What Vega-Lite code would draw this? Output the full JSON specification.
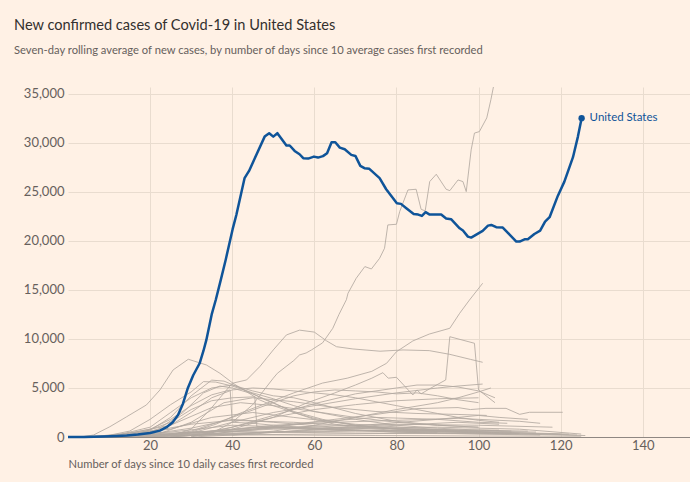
{
  "$schema": "https://vega.github.io/schema/vega-lite/v6.json",
  "width": 622,
  "height": 350,
  "autosize": {"type": "none"},
  "padding": {"left": 68, "top": 87, "right": 0, "bottom": 45},
  "background": "#fff1e5",
  "config": {"view": {"stroke": null}, "font": "Lato"},
  "title": {
    "text": "New confirmed cases of Covid-19 in United States",
    "subtitle": "Seven-day rolling average of new cases, by number of days since 10 average cases first recorded",
    "anchor": "start",
    "frame": "group",
    "dx": -54,
    "offset": 31,
    "fontSize": 14.6,
    "fontWeight": "normal",
    "color": "#33302e",
    "subtitleFontSize": 11.2,
    "subtitleColor": "#66605c",
    "subtitlePadding": 12
  },
  "datasets": {
    "grey": [
      {"c":"S1","d":10,"v":0},{"c":"S1","d":20,"v":50},{"c":"S1","d":30,"v":150},{"c":"S1","d":35,"v":400},{"c":"S1","d":40,"v":1500},{"c":"S1","d":45,"v":3300},{"c":"S1","d":50,"v":6000},{"c":"S1","d":51,"v":6500},{"c":"S1","d":55,"v":7800},{"c":"S1","d":56.4,"v":8370},{"c":"S1","d":58,"v":8570},{"c":"S1","d":59.3,"v":8880},{"c":"S1","d":62,"v":9600},{"c":"S1","d":64.5,"v":11090},{"c":"S1","d":66,"v":12500},{"c":"S1","d":67.8,"v":14000},{"c":"S1","d":68.2,"v":14660},{"c":"S1","d":70.2,"v":16190},{"c":"S1","d":72.3,"v":17380},{"c":"S1","d":73.9,"v":17140},{"c":"S1","d":75.9,"v":18230},{"c":"S1","d":77.1,"v":19250},{"c":"S1","d":77.9,"v":21630},{"c":"S1","d":80,"v":21700},{"c":"S1","d":80.8,"v":23000},{"c":"S1","d":82.8,"v":25200},{"c":"S1","d":84.8,"v":25270},{"c":"S1","d":86,"v":23230},{"c":"S1","d":87,"v":23060},{"c":"S1","d":88.1,"v":26050},{"c":"S1","d":89.7,"v":26800},{"c":"S1","d":92.1,"v":25270},{"c":"S1","d":93,"v":25130},{"c":"S1","d":95,"v":26220},{"c":"S1","d":96.2,"v":26050},{"c":"S1","d":97,"v":25030},{"c":"S1","d":98.2,"v":29290},{"c":"S1","d":99,"v":31000},{"c":"S1","d":100.2,"v":31150},{"c":"S1","d":102,"v":32550},{"c":"S1","d":103,"v":34400},{"c":"S1","d":104,"v":36500},
      {"c":"S2","d":20,"v":100},{"c":"S2","d":30,"v":500},{"c":"S2","d":36,"v":1300},{"c":"S2","d":42,"v":2440},{"c":"S2","d":50,"v":3700},{"c":"S2","d":55,"v":4500},{"c":"S2","d":62,"v":5500},{"c":"S2","d":68,"v":6000},{"c":"S2","d":74,"v":6700},{"c":"S2","d":77.6,"v":7520},{"c":"S2","d":80,"v":8700},{"c":"S2","d":84,"v":9800},{"c":"S2","d":88,"v":10500},{"c":"S2","d":93,"v":11090},{"c":"S2","d":95.4,"v":12620},{"c":"S2","d":97.8,"v":13980},{"c":"S2","d":101,"v":15680},
      {"c":"S3","d":25,"v":100},{"c":"S3","d":30,"v":800},{"c":"S3","d":34.5,"v":2750},{"c":"S3","d":40,"v":5480},{"c":"S3","d":43.5,"v":5820},{"c":"S3","d":46.7,"v":7170},{"c":"S3","d":50,"v":8880},{"c":"S3","d":53.2,"v":10410},{"c":"S3","d":56.4,"v":10900},{"c":"S3","d":60,"v":10700},{"c":"S3","d":63,"v":9800},{"c":"S3","d":65.4,"v":9210},{"c":"S3","d":69.4,"v":8980},{"c":"S3","d":76,"v":8750},{"c":"S3","d":81.6,"v":8880},{"c":"S3","d":88,"v":8810},{"c":"S3","d":93,"v":8430},{"c":"S3","d":98,"v":7920},{"c":"S3","d":101,"v":7620},
      {"c":"S4","d":3,"v":0},{"c":"S4","d":6.2,"v":200},{"c":"S4","d":10.2,"v":1050},{"c":"S4","d":14.3,"v":2070},{"c":"S4","d":19.1,"v":3270},{"c":"S4","d":22.4,"v":4800},{"c":"S4","d":25.6,"v":6840},{"c":"S4","d":29.3,"v":7930},{"c":"S4","d":33.7,"v":7350},{"c":"S4","d":37,"v":6500},{"c":"S4","d":40.2,"v":5480},{"c":"S4","d":46.7,"v":3780},{"c":"S4","d":50,"v":3200},{"c":"S4","d":55,"v":2500},{"c":"S4","d":60,"v":1900},{"c":"S4","d":65,"v":1500},{"c":"S4","d":70,"v":1200},{"c":"S4","d":80,"v":800},{"c":"S4","d":90,"v":600},{"c":"S4","d":100,"v":500},{"c":"S4","d":105,"v":450},
      {"c":"S5","d":8,"v":0},{"c":"S5","d":15,"v":600},{"c":"S5","d":20,"v":1800},{"c":"S5","d":25,"v":3300},{"c":"S5","d":30,"v":4600},{"c":"S5","d":33,"v":5650},{"c":"S5","d":36,"v":5600},{"c":"S5","d":40,"v":5200},{"c":"S5","d":45,"v":4500},{"c":"S5","d":50,"v":3900},{"c":"S5","d":55,"v":3200},{"c":"S5","d":60,"v":2600},{"c":"S5","d":70,"v":1800},{"c":"S5","d":80,"v":1200},{"c":"S5","d":90,"v":900},{"c":"S5","d":100,"v":700},{"c":"S5","d":108,"v":600},
      {"c":"S6","d":10,"v":0},{"c":"S6","d":20,"v":1000},{"c":"S6","d":25,"v":2500},{"c":"S6","d":30,"v":4000},{"c":"S6","d":35,"v":5000},{"c":"S6","d":40,"v":5300},{"c":"S6","d":45,"v":4700},{"c":"S6","d":50,"v":4200},{"c":"S6","d":55,"v":4000},{"c":"S6","d":60,"v":3500},{"c":"S6","d":70,"v":2400},{"c":"S6","d":80,"v":1600},{"c":"S6","d":90,"v":1200},{"c":"S6","d":100,"v":1000},
      {"c":"S7","d":10,"v":0},{"c":"S7","d":20,"v":800},{"c":"S7","d":25,"v":1800},{"c":"S7","d":30,"v":3200},{"c":"S7","d":35,"v":4300},{"c":"S7","d":39.5,"v":4800},{"c":"S7","d":40,"v":1500},{"c":"S7","d":45,"v":1400},{"c":"S7","d":50,"v":1200},{"c":"S7","d":60,"v":900},{"c":"S7","d":70,"v":700},{"c":"S7","d":80,"v":500},{"c":"S7","d":90,"v":400},
      {"c":"S8","d":15,"v":0},{"c":"S8","d":25,"v":1500},{"c":"S8","d":30,"v":2800},{"c":"S8","d":35,"v":3700},{"c":"S8","d":40,"v":4000},{"c":"S8","d":45.5,"v":4100},{"c":"S8","d":46,"v":1050},{"c":"S8","d":50,"v":1000},{"c":"S8","d":60,"v":800},{"c":"S8","d":70,"v":700},{"c":"S8","d":80,"v":600},{"c":"S8","d":90,"v":500},
      {"c":"S9","d":10,"v":0},{"c":"S9","d":20,"v":500},{"c":"S9","d":25,"v":1200},{"c":"S9","d":30,"v":2500},{"c":"S9","d":35,"v":4000},{"c":"S9","d":40,"v":4800},{"c":"S9","d":45,"v":5000},{"c":"S9","d":50,"v":4900},{"c":"S9","d":55,"v":4700},{"c":"S9","d":60,"v":4500},{"c":"S9","d":65,"v":4300},{"c":"S9","d":70,"v":4000},{"c":"S9","d":75,"v":3600},{"c":"S9","d":80,"v":3200},{"c":"S9","d":85,"v":2800},{"c":"S9","d":90,"v":2400},{"c":"S9","d":95,"v":2000},{"c":"S9","d":100,"v":1700},{"c":"S9","d":105,"v":1500},
      {"c":"S10","d":30,"v":100},{"c":"S10","d":40,"v":800},{"c":"S10","d":50,"v":2000},{"c":"S10","d":58,"v":3450},{"c":"S10","d":65,"v":4500},{"c":"S10","d":70,"v":5300},{"c":"S10","d":74,"v":6000},{"c":"S10","d":76.7,"v":6560},{"c":"S10","d":78,"v":6000},{"c":"S10","d":80,"v":6090},{"c":"S10","d":84,"v":4290},{"c":"S10","d":85,"v":4800},{"c":"S10","d":86,"v":4400},{"c":"S10","d":88,"v":4900},{"c":"S10","d":92,"v":5820},{"c":"S10","d":93,"v":10230},{"c":"S10","d":99,"v":9560},{"c":"S10","d":100,"v":4800},{"c":"S10","d":104,"v":3500},
      {"c":"S11","d":20,"v":0},{"c":"S11","d":30,"v":400},{"c":"S11","d":40,"v":1500},{"c":"S11","d":50,"v":2500},{"c":"S11","d":60,"v":3200},{"c":"S11","d":70,"v":3900},{"c":"S11","d":80,"v":4500},{"c":"S11","d":90,"v":5000},{"c":"S11","d":95,"v":5200},{"c":"S11","d":101,"v":5400},
      {"c":"S12","d":25,"v":0},{"c":"S12","d":35,"v":300},{"c":"S12","d":45,"v":800},{"c":"S12","d":55,"v":1300},{"c":"S12","d":65,"v":1800},{"c":"S12","d":75,"v":2300},{"c":"S12","d":85,"v":2900},{"c":"S12","d":95,"v":3000},{"c":"S12","d":98,"v":2800},{"c":"S12","d":101.8,"v":2920},{"c":"S12","d":106.7,"v":2920},{"c":"S12","d":110,"v":2310},{"c":"S12","d":112.4,"v":2520},{"c":"S12","d":120.5,"v":2520},
      {"c":"S13","d":30,"v":200},{"c":"S13","d":40,"v":1000},{"c":"S13","d":50,"v":2200},{"c":"S13","d":60,"v":3400},{"c":"S13","d":70,"v":4400},{"c":"S13","d":80,"v":5000},{"c":"S13","d":85,"v":5300},{"c":"S13","d":90,"v":5300},{"c":"S13","d":95,"v":5100},{"c":"S13","d":100,"v":4700},{"c":"S13","d":104,"v":4000},
      {"c":"S14","d":20,"v":0},{"c":"S14","d":30,"v":600},{"c":"S14","d":40,"v":2000},{"c":"S14","d":50,"v":3500},{"c":"S14","d":55,"v":4200},{"c":"S14","d":60,"v":4600},{"c":"S14","d":65,"v":4800},{"c":"S14","d":70,"v":4700},{"c":"S14","d":75,"v":4600},{"c":"S14","d":80,"v":4400},{"c":"S14","d":85,"v":4500},{"c":"S14","d":90,"v":4200},{"c":"S14","d":95,"v":3800},{"c":"S14","d":100,"v":3500},
      {"c":"S15","d":12,"v":0},{"c":"S15","d":20,"v":700},{"c":"S15","d":25,"v":2000},{"c":"S15","d":30,"v":4200},{"c":"S15","d":35,"v":5800},{"c":"S15","d":38,"v":5700},{"c":"S15","d":42,"v":5000},{"c":"S15","d":48,"v":3800},{"c":"S15","d":55,"v":2600},{"c":"S15","d":62,"v":1800},{"c":"S15","d":70,"v":1200},{"c":"S15","d":80,"v":800},{"c":"S15","d":90,"v":600},{"c":"S15","d":100,"v":500},
      {"c":"S16","d":14,"v":0},{"c":"S16","d":22,"v":800},{"c":"S16","d":28,"v":2500},{"c":"S16","d":33,"v":4500},{"c":"S16","d":37,"v":5200},{"c":"S16","d":40,"v":5000},{"c":"S16","d":45,"v":4400},{"c":"S16","d":50,"v":3500},{"c":"S16","d":55,"v":2500},{"c":"S16","d":60,"v":1800},{"c":"S16","d":65,"v":1300},{"c":"S16","d":75,"v":900},{"c":"S16","d":85,"v":800},{"c":"S16","d":95,"v":700},{"c":"S16","d":105,"v":700},
      {"c":"S17","d":40,"v":200},{"c":"S17","d":50,"v":600},{"c":"S17","d":60,"v":1200},{"c":"S17","d":70,"v":2000},{"c":"S17","d":80,"v":2800},{"c":"S17","d":90,"v":3500},{"c":"S17","d":95,"v":4000},{"c":"S17","d":100,"v":4600},{"c":"S17","d":103,"v":5000},
      {"c":"S18","d":30,"v":0},{"c":"S18","d":45,"v":300},{"c":"S18","d":60,"v":800},{"c":"S18","d":75,"v":1300},{"c":"S18","d":90,"v":1800},{"c":"S18","d":100,"v":2200},{"c":"S18","d":105,"v":2000},{"c":"S18","d":112,"v":1800},
      {"c":"S19","d":20,"v":0},{"c":"S19","d":35,"v":500},{"c":"S19","d":50,"v":1200},{"c":"S19","d":65,"v":1500},{"c":"S19","d":80,"v":1700},{"c":"S19","d":95,"v":1900},{"c":"S19","d":110,"v":1600},{"c":"S19","d":115,"v":1400},
      {"c":"L1","d":5,"v":0},{"c":"L1","d":20,"v":200},{"c":"L1","d":40,"v":700},{"c":"L1","d":60,"v":1100},{"c":"L1","d":80,"v":1300},{"c":"L1","d":100,"v":1200},{"c":"L1","d":118,"v":1000},
      {"c":"L2","d":5,"v":0},{"c":"L2","d":25,"v":300},{"c":"L2","d":45,"v":900},{"c":"L2","d":60,"v":1000},{"c":"L2","d":75,"v":900},{"c":"L2","d":90,"v":700},{"c":"L2","d":105,"v":500},{"c":"L2","d":122,"v":300},
      {"c":"L3","d":10,"v":0},{"c":"L3","d":30,"v":400},{"c":"L3","d":50,"v":800},{"c":"L3","d":70,"v":900},{"c":"L3","d":90,"v":1000},{"c":"L3","d":110,"v":800},{"c":"L3","d":125,"v":300},
      {"c":"L4","d":0,"v":0},{"c":"L4","d":20,"v":300},{"c":"L4","d":35,"v":600},{"c":"L4","d":50,"v":500},{"c":"L4","d":70,"v":400},{"c":"L4","d":90,"v":350},{"c":"L4","d":110,"v":300},{"c":"L4","d":126,"v":150},
      {"c":"L5","d":10,"v":0},{"c":"L5","d":30,"v":200},{"c":"L5","d":50,"v":500},{"c":"L5","d":70,"v":700},{"c":"L5","d":90,"v":600},{"c":"L5","d":110,"v":400},{"c":"L5","d":124,"v":200},
      {"c":"L6","d":15,"v":0},{"c":"L6","d":35,"v":600},{"c":"L6","d":45,"v":1000},{"c":"L6","d":60,"v":800},{"c":"L6","d":80,"v":500},{"c":"L6","d":100,"v":300},{"c":"L6","d":115,"v":200},
      {"c":"L7","d":5,"v":0},{"c":"L7","d":25,"v":500},{"c":"L7","d":40,"v":1200},{"c":"L7","d":55,"v":1000},{"c":"L7","d":70,"v":700},{"c":"L7","d":90,"v":500},{"c":"L7","d":108,"v":400},
      {"c":"L8","d":20,"v":0},{"c":"L8","d":40,"v":300},{"c":"L8","d":60,"v":700},{"c":"L8","d":80,"v":1200},{"c":"L8","d":95,"v":1500},{"c":"L8","d":105,"v":1300},
      {"c":"L9","d":0,"v":0},{"c":"L9","d":30,"v":150},{"c":"L9","d":60,"v":300},{"c":"L9","d":90,"v":400},{"c":"L9","d":120,"v":300},
      {"c":"L10","d":10,"v":0},{"c":"L10","d":40,"v":400},{"c":"L10","d":70,"v":600},{"c":"L10","d":100,"v":700},{"c":"L10","d":112,"v":600},
      {"c":"L11","d":15,"v":0},{"c":"L11","d":30,"v":900},{"c":"L11","d":40,"v":1800},{"c":"L11","d":50,"v":1500},{"c":"L11","d":65,"v":1000},{"c":"L11","d":80,"v":700},{"c":"L11","d":100,"v":400},{"c":"L11","d":110,"v":350},
      {"c":"L12","d":25,"v":0},{"c":"L12","d":45,"v":700},{"c":"L12","d":60,"v":1500},{"c":"L12","d":75,"v":2000},{"c":"L12","d":90,"v":1800},{"c":"L12","d":100,"v":1500},{"c":"L12","d":107,"v":1400},
      {"c":"L13","d":0,"v":0},{"c":"L13","d":15,"v":100},{"c":"L13","d":35,"v":250},{"c":"L13","d":55,"v":200},{"c":"L13","d":75,"v":150},{"c":"L13","d":100,"v":100},{"c":"L13","d":125,"v":80},
      {"c":"L14","d":5,"v":0},{"c":"L14","d":25,"v":800},{"c":"L14","d":35,"v":2000},{"c":"L14","d":45,"v":2500},{"c":"L14","d":55,"v":2000},{"c":"L14","d":70,"v":1300},{"c":"L14","d":85,"v":900},{"c":"L14","d":100,"v":600},
      {"c":"L15","d":10,"v":0},{"c":"L15","d":25,"v":1200},{"c":"L15","d":35,"v":3000},{"c":"L15","d":42,"v":3500},{"c":"L15","d":50,"v":3200},{"c":"L15","d":60,"v":2600},{"c":"L15","d":70,"v":2000},{"c":"L15","d":80,"v":1500},{"c":"L15","d":90,"v":1200},{"c":"L15","d":100,"v":1000},
      {"c":"L16","d":20,"v":0},{"c":"L16","d":30,"v":1500},{"c":"L16","d":38,"v":3500},{"c":"L16","d":45,"v":4000},{"c":"L16","d":55,"v":3600},{"c":"L16","d":65,"v":3000},{"c":"L16","d":75,"v":2600},{"c":"L16","d":85,"v":2400},{"c":"L16","d":95,"v":2300},{"c":"L16","d":102,"v":2200},
      {"c":"L17","d":30,"v":0},{"c":"L17","d":40,"v":1000},{"c":"L17","d":50,"v":2000},{"c":"L17","d":60,"v":2800},{"c":"L17","d":70,"v":3300},{"c":"L17","d":80,"v":3700},{"c":"L17","d":90,"v":3900},{"c":"L17","d":100,"v":4000},
      {"c":"L18","d":8,"v":0},{"c":"L18","d":18,"v":400},{"c":"L18","d":30,"v":1300},{"c":"L18","d":40,"v":1700},{"c":"L18","d":55,"v":1500},{"c":"L18","d":70,"v":1100},{"c":"L18","d":85,"v":800},{"c":"L18","d":100,"v":600},{"c":"L18","d":114,"v":500}
    ],
    "us": [
      {"d":0,"v":0},{"d":4,"v":5},{"d":8.5,"v":50},{"d":12,"v":100},{"d":14.3,"v":150},{"d":17,"v":250},{"d":20,"v":400},{"d":22.4,"v":650},{"d":24,"v":1000},{"d":25.5,"v":1500},{"d":26.8,"v":2240},{"d":28,"v":3400},{"d":29.2,"v":5000},{"d":30.5,"v":6300},{"d":32.1,"v":7550},{"d":33,"v":8800},{"d":33.7,"v":9900},{"d":35,"v":12500},{"d":36,"v":14000},{"d":37.2,"v":16000},{"d":38.4,"v":18060},{"d":40.1,"v":21200},{"d":41,"v":22650},{"d":43,"v":26400},{"d":44.1,"v":27140},{"d":45.5,"v":28440},{"d":47.9,"v":30640},{"d":49,"v":30990},{"d":50,"v":30640},{"d":51,"v":30990},{"d":53.2,"v":29730},{"d":54,"v":29730},{"d":55.2,"v":29180},{"d":56.4,"v":28840},{"d":57.3,"v":28440},{"d":58.5,"v":28400},{"d":59.9,"v":28600},{"d":60.9,"v":28500},{"d":62.1,"v":28650},{"d":63.1,"v":28950},{"d":64.2,"v":30070},{"d":65.1,"v":30070},{"d":66.2,"v":29520},{"d":67.4,"v":29350},{"d":69,"v":28780},{"d":70,"v":28670},{"d":71.2,"v":27650},{"d":72.2,"v":27420},{"d":73.4,"v":27350},{"d":75.9,"v":26400},{"d":77.5,"v":25270},{"d":80.1,"v":23840},{"d":81.1,"v":23780},{"d":82.4,"v":23340},{"d":84.2,"v":22750},{"d":85.3,"v":22690},{"d":86.2,"v":22550},{"d":87.1,"v":22930},{"d":88.1,"v":22690},{"d":90.9,"v":22690},{"d":92.1,"v":22290},{"d":93.3,"v":22220},{"d":95.4,"v":21290},{"d":96.2,"v":21060},{"d":97.4,"v":20440},{"d":98.2,"v":20340},{"d":101,"v":21020},{"d":102.3,"v":21560},{"d":103.1,"v":21630},{"d":104.3,"v":21400},{"d":105.9,"v":21360},{"d":107.5,"v":20680},{"d":109.2,"v":19930},{"d":110,"v":19930},{"d":111.2,"v":20170},{"d":112,"v":20170},{"d":113.6,"v":20710},{"d":115,"v":21050},{"d":116.2,"v":21970},{"d":117.3,"v":22420},{"d":119.3,"v":24590},{"d":120.9,"v":26050},{"d":123,"v":28540},{"d":124.2,"v":30640},{"d":125.1,"v":32520}
    ],
    "usend": [{"d":125.1,"v":32520,"label":"United States"}]
  },
  "encoding": {
    "x": {
      "field": "d", "type": "quantitative",
      "scale": {"domain": [0, 151.5], "nice": false, "zero": false},
      "axis": {
        "values": [20, 40, 60, 80, 100, 120, 140],
        "title": "Number of days since 10 daily cases first recorded",
        "titleAnchor": "start", "titleAlign": "left", "titleX": 0, "titleY": 30, "titleBaseline": "alphabetic",
        "titleFontWeight": "normal", "titleFontSize": 11.2, "titleColor": "#66605c",
        "labelColor": "#66605c", "labelFontSize": 13, "labelPadding": 2,
        "ticks": false, "domainColor": "#8f8782", "domainWidth": 1,
        "grid": true, "gridColor": "#e9dccf", "gridWidth": 1
      }
    },
    "y": {
      "field": "v", "type": "quantitative",
      "scale": {"domain": [0, 35700], "nice": false},
      "axis": {
        "values": [0, 5000, 10000, 15000, 20000, 25000, 30000, 35000],
        "format": ",.0f", "title": null, "domain": false, "ticks": false,
        "labelColor": "#66605c", "labelFontSize": 13, "labelPadding": 4,
        "grid": true, "gridColor": "#e9dccf", "gridWidth": 1
      }
    }
  },
  "layer": [
    {
      "data": {"name": "grey"},
      "mark": {"type": "line", "clip": true, "stroke": "#b3a9a1", "strokeWidth": 1, "opacity": 0.85},
      "encoding": {"detail": {"field": "c"}}
    },
    {
      "data": {"name": "us"},
      "mark": {"type": "line", "stroke": "#0f5499", "strokeWidth": 2.5, "strokeJoin": "round"},
      "encoding": {}
    },
    {
      "data": {"name": "usend"},
      "mark": {"type": "point", "filled": true, "color": "#0f5499", "size": 40, "opacity": 1},
      "encoding": {}
    },
    {
      "data": {"name": "usend"},
      "mark": {"type": "text", "align": "left", "baseline": "middle", "dx": 8, "fontSize": 11.5, "color": "#0f5499"},
      "encoding": {"text": {"field": "label"}}
    }
  ]
}
